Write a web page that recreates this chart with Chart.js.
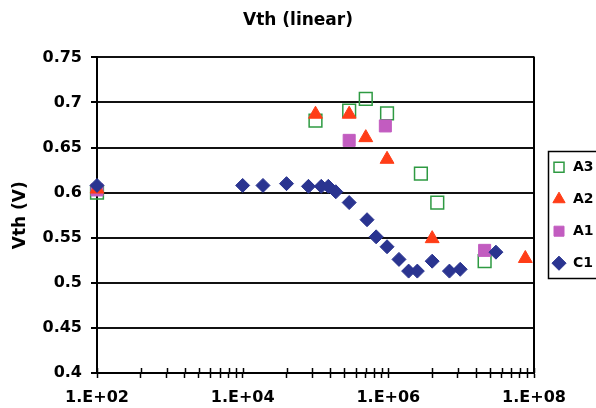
<!DOCTYPE html>
<html>
<head>
<meta charset="utf-8">
<script src="https://cdn.jsdelivr.net/npm/chart.js@4"></script>
<style>
html, body { margin: 0; padding: 0; background: #fff; overflow: hidden; }
#wrap { width: 596px; height: 408px; position: relative; }
</style>
</head>
<body>
<div id="wrap"><canvas id="c" width="596" height="408"></canvas></div>
<script>
// ---- data (stress time vs Vth) ----
const seriesNames = ['A3', 'A2', 'A1', 'C1'];

const xA3 = [1e2, 1e5, 2.9e5, 4.9e5, 9.6e5, 2.8e6, 4.7e6, 2.1e7];
const yA3 = [0.600, 0.680, 0.691, 0.704, 0.688, 0.621, 0.589, 0.524];

const xA2 = [1e2, 1e5, 2.9e5, 4.9e5, 9.6e5, 4e6, 7.6e7];
const yA2 = [0.604, 0.687, 0.687, 0.661, 0.637, 0.549, 0.527];

const xA1 = [1e2, 2.9e5, 9.1e5, 2.1e7];
const yA1 = [0.603, 0.658, 0.674, 0.536];

const xC1 = [1e2, 1e4, 1.9e4, 4e4, 8e4, 1.2e5, 1.5e5, 1.9e5, 2.9e5, 5.1e5, 6.8e5, 9.6e5, 1.4e6, 1.9e6, 2.5e6, 4e6, 6.9e6, 9.7e6, 3e7];
const yC1 = [0.608, 0.608, 0.608, 0.610, 0.607, 0.607, 0.607, 0.601, 0.589, 0.570, 0.551, 0.540, 0.526, 0.513, 0.513, 0.524, 0.513, 0.515, 0.534];

const xMajorTicks = [1e2, 1e4, 1e6, 1e8];
const xMajorLabels = ['1.E+02', '1.E+04', '1.E+06', '1.E+08'];
const xMinorFactors = [4, 9, 16, 25, 36, 49, 64, 81];
const yMin = 0.4, yMax = 0.75, yStep = 0.05;

const chartTitle = 'Vth (linear)';
const yTitle = 'Vth (V)';

// ---- build ----
function pts(xs, ys) { return xs.map((x, i) => ({ x: x, y: ys[i] })); }

const xTickValues = [];
xMajorTicks.forEach((m, i) => {
  xTickValues.push(m);
  if (i < xMajorTicks.length - 1) xMinorFactors.forEach(f => xTickValues.push(m * f));
});

const framePlugin = {
  id: 'frame',
  afterDraw(chart) {
    const ctx = chart.ctx;
    const a = chart.chartArea;
    ctx.save();
    ctx.strokeStyle = '#000';
    // right border of plot area
    ctx.lineWidth = 2;
    ctx.beginPath();
    ctx.moveTo(a.right, a.top - 1);
    ctx.lineTo(a.right, a.bottom + 1);
    ctx.stroke();
    // inner half of the crossing x tick marks
    const xs = chart.scales.x;
    ctx.lineWidth = 1.5;
    xs.ticks.forEach(t => {
      const px = Math.round(xs.getPixelForValue(t.value)) + 0.5;
      ctx.beginPath();
      ctx.moveTo(px, a.bottom);
      ctx.lineTo(px, a.bottom - 5);
      ctx.stroke();
    });
    // legend frame
    const hb = chart.legend.legendHitBoxes;
    if (hb && hb.length) {
      const l = Math.min(...hb.map(h => h.left)) - 4;
      const t = Math.min(...hb.map(h => h.top)) - 9;
      const b = Math.max(...hb.map(h => h.top + h.height)) + 8;
      ctx.lineWidth = 1.5;
      ctx.strokeRect(Math.round(l) + 0.5, Math.round(t) + 0.5, 80, Math.round(b - t));
    }
    ctx.restore();
  }
};

Chart.defaults.font.family = "'DejaVu Sans', sans-serif";
Chart.defaults.font.weight = 'bold';
Chart.defaults.color = '#000';

new Chart(document.getElementById('c'), {
  type: 'scatter',
  data: {
    datasets: [
      { label: seriesNames[0], data: pts(xA3, yA3), pointStyle: 'rect', pointRadius: 9,
        borderColor: '#2e9a42', backgroundColor: 'rgba(255,255,255,0)', borderWidth: 1.5, order: 3, clip: false },
      { label: seriesNames[1], data: pts(xA2, yA2), pointStyle: 'triangle', pointRadius: 8,
        borderColor: '#ff3d17', backgroundColor: '#ff3d17', borderWidth: 1, order: 1, clip: false },
      { label: seriesNames[2], data: pts(xA1, yA1), pointStyle: 'rect', pointRadius: 8.5,
        borderColor: '#c25cc0', backgroundColor: '#c25cc0', borderWidth: 1, order: 2, clip: false },
      { label: seriesNames[3], data: pts(xC1, yC1), pointStyle: 'rectRot', pointRadius: 7,
        borderColor: '#2a3490', backgroundColor: '#2a3490', borderWidth: 1, order: 0, clip: false }
    ]
  },
  options: {
    responsive: false,
    animation: false,
    devicePixelRatio: 1,
    events: [],
    layout: { padding: 0 },
    scales: {
      x: {
        type: 'logarithmic',
        position: 'bottom',
        min: xMajorTicks[0],
        max: xMajorTicks[xMajorTicks.length - 1],
        afterBuildTicks: (s) => { s.ticks = xTickValues.map(v => ({ value: v })); },
        afterFit: (s) => { s.height = 35; },
        ticks: {
          autoSkip: false, maxRotation: 0, minRotation: 0, padding: 10,
          color: '#000', font: { size: 16, weight: 'bold' },
          callback: (v) => { const k = xMajorTicks.indexOf(v); return k >= 0 ? xMajorLabels[k] : ''; }
        },
        grid: { drawOnChartArea: false, drawTicks: true, tickLength: 5, tickColor: '#000', tickWidth: 1.5 },
        border: { display: true, color: '#000', width: 2 }
      },
      y: {
        type: 'linear',
        min: yMin, max: yMax,
        afterFit: (s) => { s.width = 97; },
        ticks: {
          stepSize: yStep, padding: 9, color: '#000', font: { size: 16, weight: 'bold' },
          callback: (v) => String(Math.round(v * 100) / 100)
        },
        grid: { color: '#111', lineWidth: 2, drawTicks: true, tickLength: 6, tickColor: '#000' },
        border: { display: true, color: '#000', width: 2 },
        title: { display: true, text: yTitle, color: '#000', font: { size: 17, weight: 'bold' }, padding: { top: 10, bottom: 3 } }
      }
    },
    plugins: {
      title: { display: true, text: chartTitle, color: '#000', font: { size: 17, weight: 'bold' }, padding: { top: 10, bottom: 27 } },
      legend: {
        position: 'right', fullSize: false, maxWidth: 62, align: 'center',
        labels: {
          usePointStyle: true, boxWidth: 14, boxHeight: 10, padding: 18, color: '#000',
          font: { size: 14, weight: 'bold' },
          sort: (a, b) => a.datasetIndex - b.datasetIndex
        }
      },
      tooltip: { enabled: false }
    }
  },
  plugins: [framePlugin]
});
</script>
</body>
</html>
